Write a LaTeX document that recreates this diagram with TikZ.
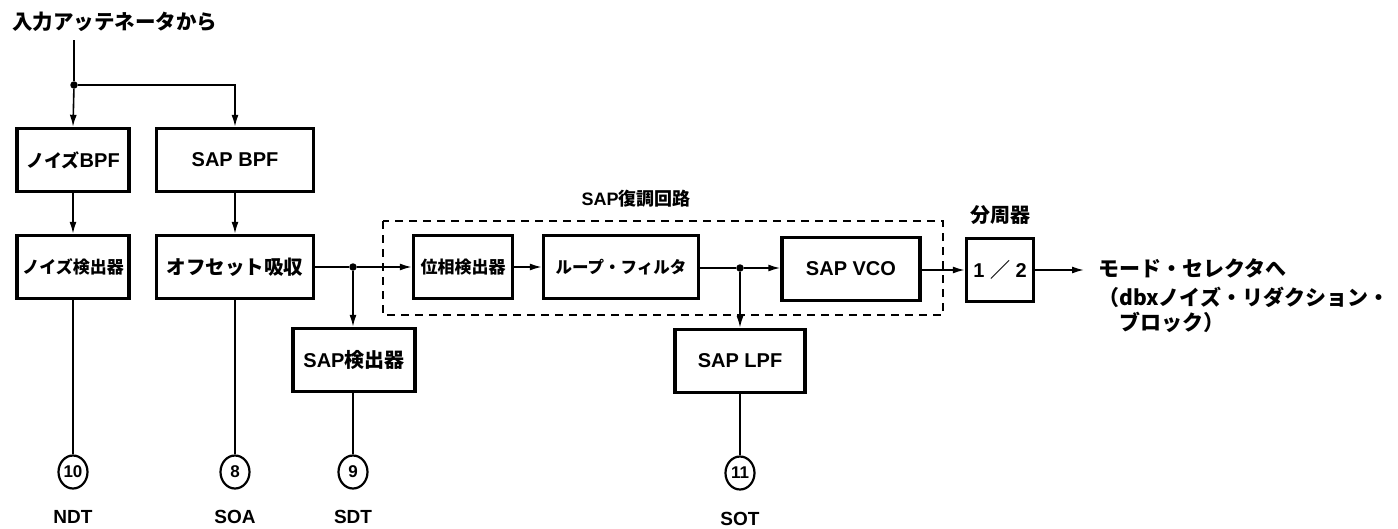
\documentclass[tikz,border=0pt]{standalone}
\usepackage{fontspec}
\setmainfont{Liberation Sans}
\newfontfamily\jp{Noto Sans CJK JP}
\usetikzlibrary{arrows.meta,shapes.geometric}
% Japanese text at a given size (default 17pt)
\newcommand\J[2][17]{{\jp\fontsize{#1}{#1}\selectfont #2}}
\begin{document}
\begin{tikzpicture}[x=1pt,y=-1pt,
  every node/.style={font=\fontsize{20}{20}\selectfont\bfseries, inner sep=0pt},
  blk/.style={draw, line width=3.4pt, minimum height=63pt},
  wire/.style={line width=1.6pt},
  arr/.style={wire, -{Latex[length=12pt,width=7pt]}},
  dot/.style={circle, fill, minimum size=7.5pt},
  term/.style={draw, ellipse, line width=2.2pt, minimum width=29pt, minimum height=33pt,
               font=\fontsize{17}{17}\selectfont\bfseries},
  sig/.style={font=\fontsize{19}{19}\selectfont\bfseries},
]
\useasboundingbox (0,0) rectangle (1398,528);

% input
\node (title) at (115,22) {\J[20.5]{入力アッテネータから}};
\coordinate (in) at (74,40);
\node[dot] (j0) at (74,85) {};

% blocks
\node[blk, minimum width=112pt] (nbpf) at (73,160) {\J[18]{ノイズ}BPF};
\node[blk, minimum width=157pt] (sbpf) at (235,160) {SAP BPF};
\node[blk, minimum width=112pt] (ndet) at (73,267) {\J[17]{ノイズ検出器}};
\node[blk, minimum width=157pt] (offs) at (235,267) {\J[19.5]{オフセット吸収}};
\node[blk, minimum width=99pt]  (phase) at (463,267) {\J[17]{位相検出器}};
\node[blk, minimum width=155pt] (loop) at (621,267) {\J[16.5]{ループ・フィルタ}};
\node[blk, minimum width=138pt] (vco) at (851,269) {SAP VCO};
\node[blk, minimum width=67pt]  (div) at (1000,270) {1 \J[20]{／} 2};
\node[blk, minimum width=122pt] (sapdet) at (354,360) {SAP\J[20]{検出器}};
\node[blk, minimum width=130pt] (saplpf) at (740,361) {SAP LPF};

% demodulator group
\draw[line width=1.5pt, dash pattern=on 8pt off 6pt] (383,221) rectangle (943,315);
\node (demod) at (636,199) {\fontsize{18}{18}\selectfont SAP\J[18]{復調回路}};
\node (divl) at (1000,215) {\J[20]{分周器}};

% junctions
\node[dot] (j1) at (353,267) {};
\node[dot] (j2) at (740,268) {};

% terminals
\node[term] (c10) at (73,472) {10};
\node[term] (c8)  at (235,472) {8};
\node[term] (c9)  at (353,472) {9};
\node[term] (c11) at (740,473) {11};
\node[sig] (ndt) at (73,517) {NDT};
\node[sig] (soa) at (235,517) {SOA};
\node[sig] (sdt) at (353,517) {SDT};
\node[sig] (sot) at (740,519) {SOT};

% output
\coordinate (oend) at (1084,270);
\node[anchor=west] (out1) at (1098,268) {\J[21]{モード・セレクタへ}};
\node[anchor=west] (out2) at (1098,297) {\J[21]{（dbxノイズ・リダクション・}};
\node[anchor=west] (out3) at (1098,322) {\J[21]{　ブロック）}};

% connections
\draw[wire] (in) -- (j0);
\draw[arr] (j0) -- (nbpf.north);
\draw[arr] (j0) -| (sbpf.north);
\draw[arr] (nbpf.south) -- (ndet.north);
\draw[arr] (sbpf.south) -- (offs.north);
\draw[wire] (offs.east) -- (j1);
\draw[arr] (j1) -- (phase.west);
\draw[arr] (j1) -- (sapdet.north -| j1);
\draw[arr] (phase.east) -- (loop.west);
\draw[wire] (loop.east |- j2) -- (j2);
\draw[arr] (j2) -- (vco.west |- j2);
\draw[arr] (j2) -- (saplpf.north);
\draw[arr] (vco.east |- div) -- (div.west);
\draw[arr] (div.east) -- (oend);
\draw[wire] (ndet.south) -- (c10.north);
\draw[wire] (offs.south) -- (c8.north);
\draw[wire] (sapdet.south -| c9) -- (c9.north);
\draw[wire] (saplpf.south) -- (c11.north);
\end{tikzpicture}
\end{document}
